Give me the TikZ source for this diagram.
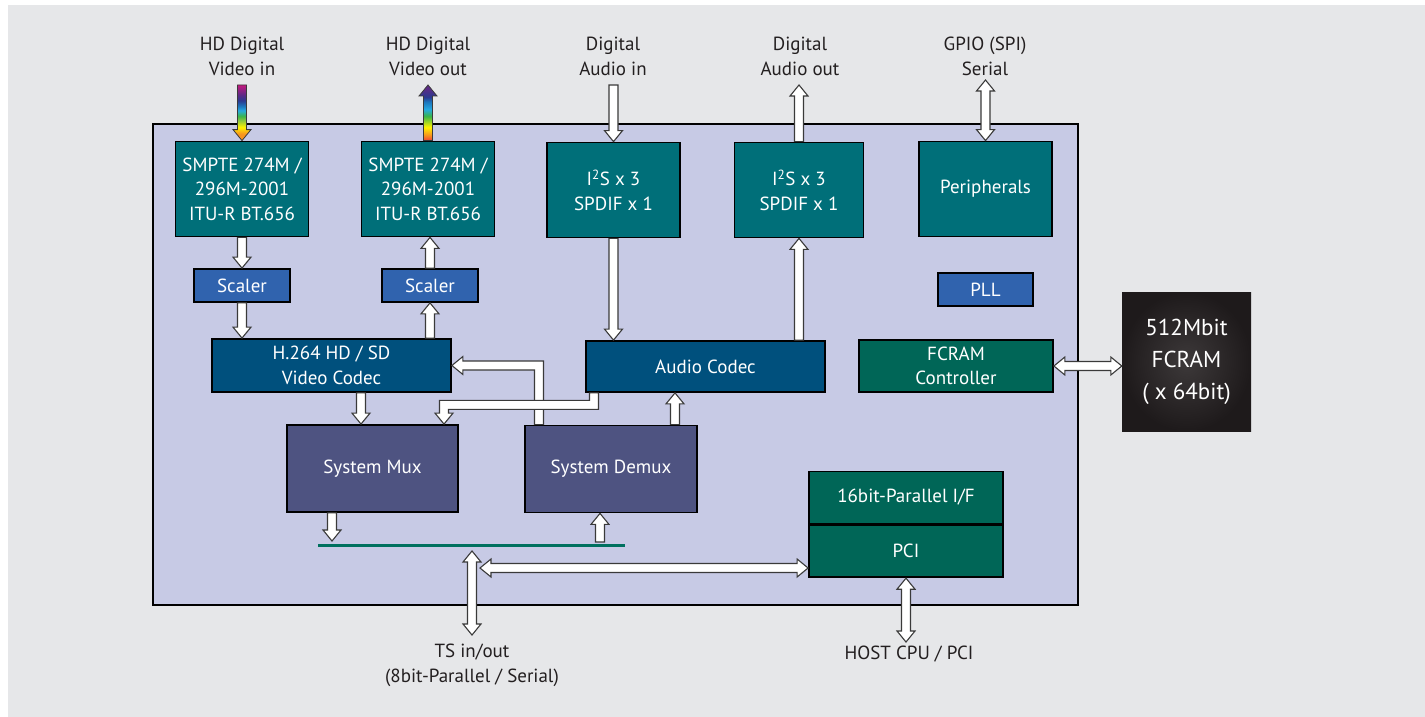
\documentclass[tikz,border=0pt]{standalone}
\usepackage{fontspec}
\setmainfont{PT Sans}
\usetikzlibrary{calc}
\definecolor{bgGray}{HTML}{E6E7E9}
\definecolor{chip}{HTML}{C7CAE5}
\definecolor{tealB}{HTML}{006F79}
\definecolor{scalerB}{HTML}{3063AE}
\definecolor{codecB}{HTML}{00507D}
\definecolor{muxB}{HTML}{4E5381}
\definecolor{greenB}{HTML}{006657}
\definecolor{busG}{HTML}{00705F}
\definecolor{ink}{HTML}{231F20}
\definecolor{arrowEdge}{HTML}{3A3A3A}
\definecolor{chipIn}{HTML}{3D393A}
\definecolor{chipOut}{HTML}{1E1A1B}
% rainbow colours
\definecolor{rbMag}{HTML}{C4187F}
\definecolor{rbPur}{HTML}{5B2A86}
\definecolor{rbDkB}{HTML}{2B3990}
\definecolor{rbBlu}{HTML}{1C75BC}
\definecolor{rbCya}{HTML}{27AAE1}
\definecolor{rbGrn}{HTML}{39B54A}
\definecolor{rbYG}{HTML}{8DC63F}
\definecolor{rbYel}{HTML}{FFF200}
\definecolor{rbOra}{HTML}{F7941D}
\definecolor{rbRed}{HTML}{EF4136}
\pgfdeclareverticalshading{rbdown}{100bp}{color(0bp)=(rbOra); color(25bp)=(rbOra); color(31bp)=(rbOra); color(37bp)=(rbYel); color(43bp)=(rbYG); color(47bp)=(rbGrn); color(52bp)=(rbCya); color(56bp)=(rbBlu); color(61bp)=(rbDkB); color(66bp)=(rbPur); color(75bp)=(rbMag); color(100bp)=(rbMag)}
\pgfdeclareverticalshading{rbup}{100bp}{color(0bp)=(rbRed); color(25bp)=(rbRed); color(30bp)=(rbOra); color(37bp)=(rbYel); color(47bp)=(rbGrn); color(53bp)=(rbCya); color(60bp)=(rbBlu); color(64bp)=(rbDkB); color(72bp)=(rbPur); color(75bp)=(rbPur); color(100bp)=(rbPur)}
\tikzset{
  blk/.style={draw=black, line width=1.8pt, text=white, align=center, inner sep=0pt,
    font=\fontsize{19}{24.5}\selectfont},
  lbl/.style={text=ink, align=center, inner sep=0pt, font=\fontsize{19}{25}\selectfont},
  fat/.style={fill=white, draw=arrowEdge, line width=1.1pt, line join=miter},
  rbd/.style={shading=rbdown, draw=arrowEdge, line width=0.8pt},
  rbu/.style={shading=rbup, draw=arrowEdge, line width=0.8pt},
}
% single-headed fat arrow, head at #3
\newcommand\fatA[3][fat]{%
  \coordinate (faS) at (#2);
  \coordinate (faE) at (#3);
  \coordinate (faB) at ($(faE)!11pt!(faS)$);
  \path[#1] ($(faS)!4.5pt!90:(faE)$) -- ($(faB)!4.5pt!-90:(faS)$) -- ($(faB)!9pt!-90:(faS)$)
    -- (faE) -- ($(faB)!9pt!90:(faS)$) -- ($(faB)!4.5pt!90:(faS)$) -- ($(faS)!4.5pt!-90:(faE)$) -- cycle;}
% double-headed fat arrow
\newcommand\fatD[3][fat]{%
  \coordinate (faS) at (#2);
  \coordinate (faE) at (#3);
  \coordinate (faB1) at ($(faS)!11pt!(faE)$);
  \coordinate (faB2) at ($(faE)!11pt!(faS)$);
  \path[#1] (faS) -- ($(faB1)!9pt!90:(faE)$) -- ($(faB1)!4.5pt!90:(faE)$) -- ($(faB2)!4.5pt!-90:(faS)$)
    -- ($(faB2)!9pt!-90:(faS)$) -- (faE) -- ($(faB2)!9pt!90:(faS)$) -- ($(faB2)!4.5pt!90:(faS)$)
    -- ($(faB1)!4.5pt!-90:(faE)$) -- ($(faB1)!9pt!-90:(faE)$) -- cycle;}
\begin{document}
\begin{tikzpicture}[x=1pt, y=-1pt]
\useasboundingbox (0,0) rectangle (1425,717);
\fill[white] (0,0) rectangle (1425,717);
\fill[bgGray] (8,5) rectangle (1425,717);
% chip outline
\draw[fill=chip, draw=black, line width=2pt] (153,124) rectangle (1078,605);

% blocks
\node[blk, fill=tealB, minimum width=133pt, minimum height=95pt] (smpteL) at (242,189) {SMPTE 274M /\\296M-2001\\ITU-R BT.656};
\node[blk, fill=tealB, minimum width=133pt, minimum height=95pt] (smpteR) at (428,189) {SMPTE 274M /\\296M-2001\\ITU-R BT.656};
\node[blk, fill=tealB, minimum width=133pt, minimum height=95pt] (i2sL) at (613.5,190) {I\textsuperscript{2}S x 3\\SPDIF x 1};
\node[blk, fill=tealB, minimum width=129pt, minimum height=95pt] (i2sR) at (799,190) {I\textsuperscript{2}S x 3\\SPDIF x 1};
\node[blk, fill=tealB, minimum width=133pt, minimum height=95pt] (periph) at (985.5,189) {Peripherals};
\node[blk, fill=scalerB, minimum width=96pt, minimum height=33pt] (scalerL) at (242,285.5) {Scaler};
\node[blk, fill=scalerB, minimum width=96pt, minimum height=33pt] (scalerR) at (430,285.5) {Scaler};
\node[blk, fill=scalerB, minimum width=95pt, minimum height=33pt] (pll) at (985.5,289.5) {PLL};
\node[blk, fill=codecB, minimum width=239pt, minimum height=53pt] (h264) at (331.5,365.5) {H.264 HD / SD\\Video Codec};
\node[blk, fill=codecB, minimum width=239pt, minimum height=51pt] (audio) at (705.5,366.5) {Audio Codec};
\node[blk, fill=greenB, minimum width=194pt, minimum height=52pt] (fcramc) at (956,366) {FCRAM\\Controller};
\node[blk, fill=muxB, minimum width=171pt, minimum height=87pt] (mux) at (372.5,468.5) {System Mux};
\node[blk, fill=muxB, minimum width=172pt, minimum height=87pt] (demux) at (611,469) {System Demux};
\node[blk, fill=greenB, minimum width=194pt, minimum height=52pt] (par) at (906,497.5) {16bit-Parallel I/F};
\node[blk, fill=greenB, minimum width=194pt, minimum height=52pt, anchor=north] (pci) at (par.south) {PCI};
\node[draw=none, text=white, align=center, inner sep=0pt, minimum width=129pt, minimum height=139pt,
  inner color=chipIn, outer color=chipOut, font=\fontsize{23}{32}\selectfont] (fcram) at (1186.5,361.5) {512Mbit\\FCRAM\\( x 64bit)};

% external labels
\node[lbl] (lvin) at (242,56.5) {HD Digital\\Video in};
\node[lbl] (lvout) at (428,56.5) {HD Digital\\Video out};
\node[lbl] (lain) at (613,56.5) {Digital\\Audio in};
\node[lbl] (laout) at (800,56.5) {Digital\\Audio out};
\node[lbl] (lgpio) at (985,56.5) {GPIO (SPI)\\Serial};
\node[lbl] (lts) at (472,665.5) {TS in/out\\(8bit-Parallel / Serial)};
\node[lbl] (lhost) at (909,654) {HOST CPU / PCI};

% coordinates for free ends
\coordinate (vin) at (smpteL.north |- 0,85);
\coordinate (vout) at (smpteR.north |- 0,85);
\coordinate (ain) at (i2sL.north |- 0,85);
\coordinate (aout) at (i2sR.north |- 0,85);
\coordinate (gpio) at (periph.north |- 0,80);
\coordinate (busL) at (318,545);
\coordinate (busR) at (625,545);
\coordinate (tsT) at (472,551);
\coordinate (tsB) at (472,635);
\coordinate (hb) at (480,568);
\coordinate (host) at (pci.south |- 0,642);

% bus line
\draw[busG, line width=3pt] (busL) -- (busR);

% rainbow arrows
\fatA[rbd]{vin}{smpteL.north}
\fatA[rbu]{smpteR.north}{vout}

% video path
\fatA{smpteL.south}{scalerL.north}
\fatA{scalerL.south}{scalerL.south |- h264.north}
\fatA{scalerR.north}{scalerR.north |- smpteR.south}
\fatA{scalerR.south |- h264.north}{scalerR.south}
\coordinate (a7) at ($(h264.south)+(29.5,0)$);
\fatA{a7}{a7 |- mux.north}

% demux -> video codec (bent)
\coordinate (b8) at (demux.north -| 539,0);
\path[fat] ($(b8)+(-4.5,0)$) |- ($(h264.east)+(11,4.5)$) -- ++(0,4.5) -- (h264.east)
  -- ++(11,-9) -- ++(0,4.5) -| ($(b8)+(4.5,0)$) -- cycle;
% audio codec -> mux (bent)
\coordinate (b9) at (audio.south -| 594,0);
\coordinate (b9e) at (mux.north -| 444,0);
\path[fat] ($(b9)+(-4.5,0)$) -- ++(0,7.5) -| ($(b9e)+(-4.5,-11)$) -- ++(-4.5,0) -- (b9e)
  -- ++(9,-11) -- ++(-4.5,0) |- ($(b9)+(4.5,16.5)$) -- ($(b9)+(4.5,0)$) -- cycle;
\coordinate (a10) at ($(demux.north)+(64,0)$);
\fatA{a10}{a10 |- audio.south}

% audio path
\fatA{ain}{i2sL.north}
\fatA{i2sL.south}{i2sL.south |- audio.north}
\fatA{i2sR.south |- audio.north}{i2sR.south}
\fatA{i2sR.north}{aout}
\fatD{gpio}{periph.north}

% mux/demux to bus
\coordinate (a16) at ($(mux.south)+(-40.5,0)$);
\coordinate (a16e) at ($(a16 |- busL)+(0,-4)$);
\fatA{a16}{a16e}
\coordinate (a17) at ($(busL -| 600,0)+(0,-3)$);
\fatA{a17}{a17 |- demux.south}

% TS, host bus
\fatD{tsT}{tsB}
\fatD{hb}{hb -| pci.west}
\fatD{pci.south}{host}
\fatD{fcramc.east}{fcramc.east -| fcram.west}
\end{tikzpicture}
\end{document}
